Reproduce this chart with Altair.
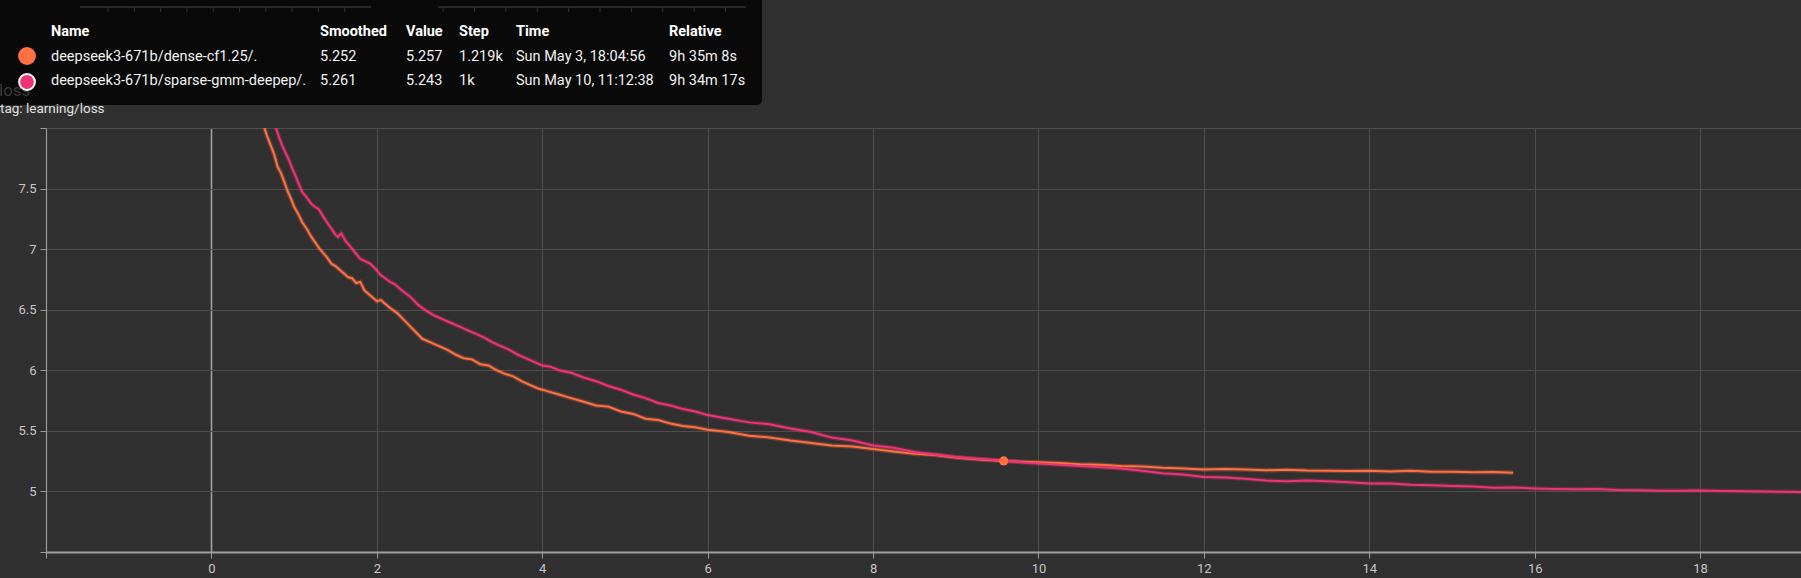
import altair as alt
import pandas as pd

# ---------------- data ----------------
series_names = ["deepseek3-671b/dense-cf1.25/.", "deepseek3-671b/sparse-gmm-deepep/."]
series_colors = ["#ff7043", "#ee3377"]

dense_hours = [0.64, 0.68, 0.72, 0.76, 0.80, 0.84, 0.88, 0.92, 0.96, 1.00, 1.05, 1.10,
               1.15, 1.20, 1.25, 1.30, 1.35, 1.40, 1.45, 1.50, 1.55, 1.60, 1.65, 1.70,
               1.75, 1.80, 1.85, 1.90, 1.95, 2.00, 2.05, 2.10, 2.15, 2.25, 2.35, 2.45,
               2.55, 2.65, 2.75, 2.85, 2.95, 3.05, 3.15, 3.25, 3.35, 3.45, 3.55, 3.65,
               3.75, 3.85, 3.95, 4.05, 4.20, 4.35, 4.50, 4.65, 4.80, 4.95, 5.10, 5.25,
               5.40, 5.55, 5.70, 5.85, 6.00, 6.25, 6.50, 6.75, 7.00, 7.25, 7.50, 7.75,
               8.00, 8.25, 8.50, 8.75, 9.00, 9.25, 9.58, 9.80, 10.00, 10.25, 10.50, 10.75,
               11.00, 11.25, 11.50, 11.75, 12.00, 12.25, 12.50, 12.75, 13.00, 13.25, 13.50,
               13.75, 14.00, 14.25, 14.50, 14.75, 15.00, 15.25, 15.50, 15.74]
dense_loss = [8.00, 7.92, 7.85, 7.78, 7.68, 7.63, 7.56, 7.48, 7.42, 7.35, 7.29, 7.22,
              7.17, 7.11, 7.06, 7.01, 6.97, 6.93, 6.88, 6.86, 6.83, 6.80, 6.77, 6.76,
              6.72, 6.73, 6.66, 6.63, 6.60, 6.57, 6.58, 6.55, 6.52, 6.47, 6.40, 6.33,
              6.26, 6.23, 6.20, 6.17, 6.13, 6.10, 6.09, 6.05, 6.04, 6.00, 5.97, 5.95,
              5.91, 5.88, 5.85, 5.83, 5.80, 5.77, 5.74, 5.71, 5.70, 5.66, 5.64, 5.60,
              5.59, 5.56, 5.54, 5.53, 5.51, 5.49, 5.46, 5.445, 5.42, 5.40, 5.38, 5.37,
              5.35, 5.33, 5.31, 5.30, 5.28, 5.265, 5.252, 5.245, 5.24, 5.235, 5.225, 5.22,
              5.21, 5.205, 5.195, 5.19, 5.18, 5.185, 5.18, 5.175, 5.178, 5.172, 5.17,
              5.168, 5.17, 5.165, 5.17, 5.162, 5.163, 5.158, 5.16, 5.155]

sparse_hours = [0.78, 0.82, 0.86, 0.90, 0.94, 0.98, 1.02, 1.06, 1.10, 1.15, 1.20, 1.25,
                1.30, 1.35, 1.40, 1.45, 1.50, 1.53, 1.57, 1.62, 1.68, 1.74, 1.80, 1.86,
                1.92, 1.98, 2.04, 2.10, 2.16, 2.22, 2.30, 2.40, 2.50, 2.60, 2.70, 2.80,
                2.90, 3.00, 3.10, 3.20, 3.30, 3.40, 3.50, 3.60, 3.70, 3.80, 3.90, 4.00,
                4.10, 4.20, 4.35, 4.50, 4.65, 4.80, 4.95, 5.10, 5.25, 5.40, 5.55, 5.70,
                5.85, 6.00, 6.25, 6.50, 6.75, 7.00, 7.25, 7.50, 7.75, 8.00, 8.25, 8.50,
                8.75, 9.00, 9.25, 9.58, 9.80, 10.00, 10.25, 10.50, 10.75, 11.00, 11.25,
                11.50, 11.75, 12.00, 12.25, 12.50, 12.75, 13.00, 13.25, 13.50, 13.75,
                14.00, 14.25, 14.50, 14.75, 15.00, 15.25, 15.50, 15.75, 16.00, 16.25,
                16.50, 16.75, 17.00, 17.25, 17.50, 17.75, 18.00, 18.25, 18.50, 18.75,
                19.00, 19.22]
sparse_loss = [8.00, 7.92, 7.85, 7.79, 7.73, 7.66, 7.60, 7.53, 7.47, 7.43, 7.38, 7.35,
               7.33, 7.27, 7.22, 7.17, 7.12, 7.10, 7.13, 7.07, 7.02, 6.97, 6.92, 6.90,
               6.88, 6.84, 6.79, 6.76, 6.73, 6.71, 6.66, 6.61, 6.54, 6.49, 6.45, 6.42,
               6.39, 6.36, 6.33, 6.30, 6.27, 6.23, 6.20, 6.17, 6.13, 6.10, 6.07, 6.04,
               6.03, 6.00, 5.98, 5.94, 5.91, 5.87, 5.84, 5.80, 5.77, 5.73, 5.71, 5.68,
               5.66, 5.63, 5.60, 5.57, 5.555, 5.52, 5.49, 5.445, 5.42, 5.38, 5.36, 5.325,
               5.305, 5.285, 5.27, 5.255, 5.24, 5.23, 5.22, 5.21, 5.20, 5.19, 5.17,
               5.15, 5.14, 5.12, 5.115, 5.105, 5.09, 5.085, 5.09, 5.085, 5.075,
               5.066, 5.065, 5.055, 5.05, 5.045, 5.04, 5.03, 5.032, 5.025, 5.02,
               5.018, 5.02, 5.012, 5.01, 5.006, 5.005, 5.008, 5.004, 5.002, 5.0,
               4.997, 4.995]

marker_hours = [9.58]
marker_loss = [5.252]

x_ticks = [-2, 0, 2, 4, 6, 8, 10, 12, 14, 16, 18]
y_ticks = [4.5, 5, 5.5, 6, 6.5, 7, 7.5, 8]
x_domain = [-2, 19.22]
y_domain = [4.5, 8.0]

tooltip_header = ["Name", "Smoothed", "Value", "Step", "Time", "Relative"]
tooltip_smoothed = ["5.252", "5.261"]
tooltip_value = ["5.257", "5.243"]
tooltip_step = ["1.219k", "1k"]
tooltip_time = ["Sun May 3, 18:04:56", "Sun May 10, 11:12:38"]
tooltip_relative = ["9h 35m 8s", "9h 34m 17s"]

# ---------------- layout (pixels in the 1801x578 page) ----------------
W, H = 1801, 578
OX, OY = 46, 128            # plot origin
PW, PH = W - OX, 552 - OY   # plot area
BG = "#303030"
FONT = "Roboto"

def rx(v):
    return v - OX

def ry(v):
    return v - OY

# ---------------- main plot ----------------
lines_df = pd.concat([
    pd.DataFrame({"hours": dense_hours, "loss": dense_loss, "run": series_names[0]}),
    pd.DataFrame({"hours": sparse_hours, "loss": sparse_loss, "run": series_names[1]}),
])

xs = alt.Scale(domain=x_domain, nice=False, zero=False)
ys = alt.Scale(domain=y_domain, nice=False, zero=False)
cs = alt.Scale(domain=series_names, range=series_colors)

x_axis = alt.Axis(
    values=x_ticks, title=None, format="~g",
    labelExpr="datum.value == -2 ? '' : datum.label",
    grid=True,
    gridColor={"condition": {"test": "datum.value === 0", "value": "#a0a0a0"}, "value": "#4e4e4e"},
    gridWidth={"condition": {"test": "datum.value === 0", "value": 1.6}, "value": 1},
    domainColor="#a0a0a0", domainWidth=2,
    tickColor="#a0a0a0", tickSize=6,
    labelColor="#c6c6c6", labelFont=FONT, labelFontSize=13, labelPadding=4,
)
y_axis = alt.Axis(
    values=y_ticks, title=None, format="~g",
    labelExpr="(datum.value == 4.5 || datum.value == 8) ? '' : datum.label",
    grid=True, gridColor="#4e4e4e", gridWidth=1,
    domainColor="#9a9a9a", domainWidth=1.2,
    tickColor="#9a9a9a", tickSize=6,
    labelColor="#c6c6c6", labelFont=FONT, labelFontSize=13, labelPadding=4,
)

base = alt.Chart(lines_df)
halo = base.mark_line(clip=True, strokeWidth=4.5, opacity=0.28).encode(
    x=alt.X("hours:Q", scale=xs, axis=x_axis),
    y=alt.Y("loss:Q", scale=ys, axis=y_axis),
    color=alt.Color("run:N", scale=cs, legend=None),
    detail="run:N",
)
main = base.mark_line(clip=True, strokeWidth=2).encode(
    x=alt.X("hours:Q", scale=xs),
    y=alt.Y("loss:Q", scale=ys),
    color=alt.Color("run:N", scale=cs, legend=None),
    detail="run:N",
)
marker = alt.Chart(pd.DataFrame({"hours": marker_hours, "loss": marker_loss})).mark_point(
    filled=True, size=85, opacity=1, color=series_colors[0]
).encode(x=alt.X("hours:Q", scale=xs), y=alt.Y("loss:Q", scale=ys))

# ---------------- tooltip overlay & header decorations ----------------
one = pd.DataFrame({"k": [0]})
tip_rect = alt.Chart(one).mark_rect(
    color="#000000", opacity=0.8, cornerRadiusBottomRight=5
).encode(
    x=alt.value(rx(0)), x2=alt.value(rx(762)),
    y=alt.value(ry(0)), y2=alt.value(ry(105)),
)

# dim mini-chart axes seen through the tooltip
mini_axes_df = pd.DataFrame({"a": [rx(80), rx(438)], "b": [rx(371), rx(746)], "py": [ry(7), ry(7)]})
mini_axes = alt.Chart(mini_axes_df).mark_rule(color="#333333", strokeWidth=1.5).encode(
    x=alt.X("a:Q", scale=None, axis=None), x2="b:Q", y=alt.Y("py:Q", scale=None, axis=None)
)
tick_px = [108 + 26.3 * i for i in range(10)] + [443 + 31.4 * i for i in range(10)]
mini_ticks_df = pd.DataFrame({"px": [rx(p) for p in tick_px], "a": [ry(7)] * 20, "b": [ry(12)] * 20})
mini_ticks = alt.Chart(mini_ticks_df).mark_rule(color="#333333", strokeWidth=1).encode(
    x=alt.X("px:Q", scale=None, axis=None), y=alt.Y("a:Q", scale=None, axis=None), y2="b:Q"
)
loss_ghost = alt.Chart(one).mark_text(
    text="loss", font=FONT, fontSize=17, color="#393939", align="left", baseline="middle"
).encode(x=alt.value(rx(-1)), y=alt.value(ry(91)))

col_x = [51, 320, 406, 459, 516, 669]
head_df = pd.DataFrame({"t": tooltip_header, "px": [rx(c) for c in col_x], "py": [ry(32)] * 6})
head_text = alt.Chart(head_df).mark_text(
    font=FONT, fontSize=14.5, fontWeight="bold", color="#ffffff", align="left", baseline="middle"
).encode(x=alt.X("px:Q", scale=None, axis=None), y=alt.Y("py:Q", scale=None, axis=None), text="t:N")

row_y = [57, 81]
cells, cx, cy = [], [], []
for i in range(2):
    row = [series_names[i], tooltip_smoothed[i], tooltip_value[i], tooltip_step[i],
           tooltip_time[i], tooltip_relative[i]]
    for j, v in enumerate(row):
        cells.append(v)
        cx.append(rx(col_x[j]))
        cy.append(ry(row_y[i]))
row_df = pd.DataFrame({"t": cells, "px": cx, "py": cy})
row_text = alt.Chart(row_df).mark_text(
    font=FONT, fontSize=14.5, color="#f2f2f2", align="left", baseline="middle"
).encode(x=alt.X("px:Q", scale=None, axis=None), y=alt.Y("py:Q", scale=None, axis=None), text="t:N")

dot_df = pd.DataFrame({"run": series_names, "px": [rx(27), rx(27)], "py": [ry(56), ry(82)]})
dot_orange = alt.Chart(dot_df.iloc[[0]]).mark_point(
    filled=True, size=320, opacity=1, color=series_colors[0]
).encode(x=alt.X("px:Q", scale=None, axis=None), y=alt.Y("py:Q", scale=None, axis=None))
dot_pink = alt.Chart(dot_df.iloc[[1]]).mark_point(
    filled=True, size=250, opacity=1, fill=series_colors[1], stroke="#ffffff", strokeWidth=2
).encode(x=alt.X("px:Q", scale=None, axis=None), y=alt.Y("py:Q", scale=None, axis=None))

tag_text = alt.Chart(one).mark_text(
    text="tag: learning/loss", font=FONT, fontSize=13.5, color="#e0e0e0",
    align="left", baseline="middle"
).encode(x=alt.value(rx(0)), y=alt.value(ry(109)))

chart = alt.layer(
    halo, main, marker,
    tip_rect, mini_axes, mini_ticks, loss_ghost,
    head_text, row_text, dot_orange, dot_pink, tag_text,
).properties(
    width=PW, height=PH,
    autosize=alt.AutoSizeParams(type="none"),
    padding={"left": OX, "top": OY, "right": 0, "bottom": H - OY - PH},
    background=BG,
).configure_view(stroke=None, fill=BG)

chart.save("out.html", embed_options={"renderer": "svg", "actions": False})
